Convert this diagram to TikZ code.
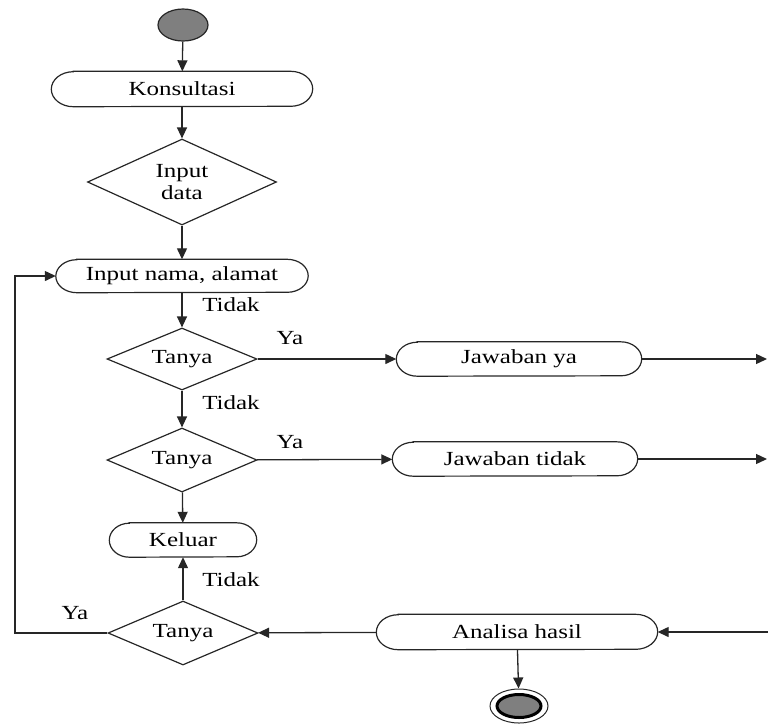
\documentclass[tikz,border=0pt]{standalone}
\usepackage{fontspec}
\setmainfont{Liberation Serif}[FakeStretch=1.25]
\usetikzlibrary{arrows.meta,shapes.geometric}
\definecolor{dotgray}{HTML}{7F7F7F}
\tikzset{
 base/.style={font=\fontsize{20}{22}\selectfont},
 stad/.style={base, rectangle, draw=none, inner sep=0pt},
 dia/.style={base, diamond, aspect=2.4, draw=black!85, line width=1.2pt, inner sep=0pt, align=center},
 conn/.style={line width=1.3pt, draw=black!85, -{Triangle[length=11pt,width=10pt]}},
 lbl/.style={base, inner sep=0pt},
}
\newcommand\stadiumoutline[3]{%
 \draw[line width=1.2pt, draw=black!85] ([xshift=#2]#1.north west) -- ([xshift=-#2]#1.north east)
   arc[start angle=90,end angle=-90,x radius=#2,y radius=#3]
   -- ([xshift=#2]#1.south west)
   arc[start angle=270,end angle=90,x radius=#2,y radius=#3] -- cycle;}
\begin{document}
\begin{tikzpicture}[x=1pt,y=-1pt]
\useasboundingbox (0,0) rectangle (768,724);
% start
\node[ellipse, draw=black!85, line width=1.2pt, fill=dotgray, minimum width=50pt, minimum height=32pt, inner sep=0pt] (start) at (183,25) {};
% activity nodes
\node[stad, minimum width=261pt, minimum height=35pt] (kons) at (182,89) {Konsultasi};
\node[dia, minimum width=189pt, minimum height=86pt] (d1) at (182,182) {Input\\data};
\node[stad, minimum width=252pt, minimum height=33pt] (inp) at (182,276) {Input nama, alamat};
\node[dia, minimum width=150pt, minimum height=62pt] (t1) at (182,359) {Tanya};
\node[stad, minimum width=245pt, minimum height=34pt] (jya) at (519,359) {Jawaban ya};
\node[dia, minimum width=150pt, minimum height=64pt] (t2) at (182,460) {Tanya};
\node[stad, minimum width=245pt, minimum height=34pt] (jtd) at (515,459) {Jawaban tidak};
\node[stad, minimum width=147pt, minimum height=34pt] (kel) at (183,540) {Keluar};
\node[dia, minimum width=150pt, minimum height=64pt] (t3) at (183,633) {Tanya};
\node[stad, minimum width=281pt, minimum height=35pt] (ana) at (517,632) {Analisa hasil};
% end
\node[ellipse, draw=black!85, line width=1pt, minimum width=58pt, minimum height=34pt, inner sep=0pt] (fin) at (519,706) {};
\node[ellipse, draw=black, line width=3pt, fill=dotgray, minimum width=44pt, minimum height=23pt, inner sep=0pt] (finin) at (fin.center) {};
% outlines
\stadiumoutline{kons}{22pt}{17.5pt}
\stadiumoutline{inp}{21pt}{16.5pt}
\stadiumoutline{jya}{21pt}{17pt}
\stadiumoutline{jtd}{21pt}{17pt}
\stadiumoutline{kel}{20pt}{17pt}
\stadiumoutline{ana}{22pt}{17.5pt}
% coordinates at the edge
\coordinate (ey) at (767,359);
\coordinate (et) at (767,459);
\coordinate (ea) at (768,632);
\coordinate (lp) at (15,0);
% connectors
\draw[conn] (start) -- (kons);
\draw[conn] (kons) -- (d1);
\draw[conn] (d1) -- (inp);
\draw[conn] (inp) -- (t1);
\draw[conn] (t1) -- (jya);
\draw[conn] (jya) -- (ey);
\draw[conn] (t1) -- (t2);
\draw[conn] (t2) -- (jtd);
\draw[conn] (jtd) -- (et);
\draw[conn] (t2) -- (kel);
\draw[conn] (t3) -- (kel);
\draw[conn] (ana) -- (t3);
\draw[conn] (ea) -- (ana);
\draw[conn] (ana) -- (fin);
\draw[conn] (t3.west) -- (t3.west -| lp) |- (inp.west);
% labels
\node[lbl] (l1) at (231,305) {Tidak};
\node[lbl] (l2) at (290,338) {Ya};
\node[lbl] (l3) at (231,403) {Tidak};
\node[lbl] (l4) at (290,442) {Ya};
\node[lbl] (l5) at (231,580) {Tidak};
\node[lbl] (l6) at (75,613) {Ya};
\end{tikzpicture}
\end{document}
